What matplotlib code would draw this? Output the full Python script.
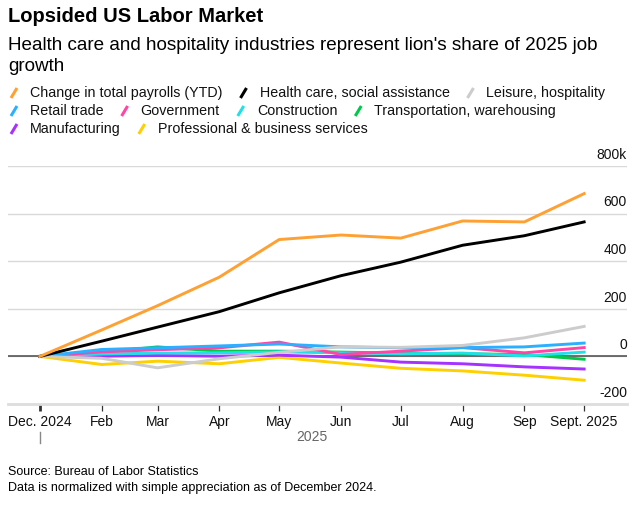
import matplotlib
matplotlib.use("Agg")
import matplotlib.pyplot as plt
import matplotlib.transforms as mtransforms
from matplotlib.lines import Line2D
import pandas as pd

plt.rcParams["font.family"] = ["Liberation Sans", "DejaVu Sans"]

# ---------------- DATA ---------------- #

months = pd.to_datetime([
    "2024-12-31", "2025-01-31", "2025-02-28", "2025-03-31", "2025-04-30",
    "2025-05-31", "2025-06-30", "2025-07-31", "2025-08-31", "2025-09-30",
])
tick_labels = ["Dec. 2024", "Feb", "Mar", "Apr", "May", "Jun", "Jul", "Aug", "Sep", "Sept. 2025"]

# cumulative change since Dec 2024, thousands of jobs
total_payrolls = [0, 111, 213, 333, 491, 510, 497, 569, 565, 684]
health_care = [0, 64, 123, 188, 267, 339, 396, 467, 507, 565]
leisure = [0, -8, -48, -10, 17, 40, 38, 46, 78, 126]
retail = [0, 29, 36, 44, 52, 40, 36, 37, 40, 56]
government = [0, 19, 28, 36, 60, 8, 22, 37, 15, 37]
construction = [0, 10, 14, 15, 19, 15, 11, 14, 2, 18]
transportation = [0, 17, 40, 22, 22, 18, 14, 11, 8, -12]
manufacturing = [0, 1, 4, 1, 5, -3, -24, -31, -44, -53]
professional = [0, -34, -20, -31, -4, -28, -50, -61, -79, -100]

series_names = [
    "Change in total payrolls (YTD)", "Health care, social assistance", "Leisure, hospitality",
    "Retail trade", "Government", "Construction", "Transportation, warehousing",
    "Manufacturing", "Professional & business services",
]
series_values = [
    total_payrolls, health_care, leisure, retail, government,
    construction, transportation, manufacturing, professional,
]
series_colors = [
    "#ffa033", "#000000", "#cccccc", "#2bb0ff", "#ff45a6",
    "#21e0e8", "#00c94a", "#a532ff", "#ffd000",
]
legend_rows = [[0, 1, 2], [3, 4, 5, 6], [7, 8]]

y_ticks = [-200, 0, 200, 400, 600, 800]
y_tick_labels = ["-200", "0", "200", "400", "600", "800k"]

# ---------------- FIGURE ---------------- #

W, H = 634, 505
fig = plt.figure(figsize=(W / 100, H / 100), dpi=100)
ax = fig.add_axes([8 / W, 1 - 404 / H, (627 - 8) / W, (404 - 166) / H])

# gridlines
for v in y_ticks[1:]:
    ax.axhline(v, color="#d9d9d9", lw=1, zorder=1)
ax.axhline(0, color="#555555", lw=1.2, zorder=2)

# lines, drawn bottom-up so the main series sit on top
order = [2, 8, 7, 6, 5, 4, 3, 1, 0]
for i in order:
    ax.plot(months, series_values[i], color=series_colors[i], lw=2.1,
            solid_joinstyle="round", zorder=3 + (9 - i) * 0.01 + (1 if i < 2 else 0))

ax.set_ylim(-200, 800)
ax.set_xlim(months[0] - pd.Timedelta(days=16), months[-1] + pd.Timedelta(days=21.5))

# y labels sit above each gridline, right aligned
ytrans = mtransforms.blended_transform_factory(ax.transAxes, ax.transData)
for v, lab in zip(y_ticks, y_tick_labels):
    ax.annotate(lab, xy=(1.0, v), xycoords=ytrans, xytext=(0, 3),
                textcoords="offset points", ha="right", va="bottom",
                fontsize=10, color="#111111")

ax.set_yticks([])
for s in ["top", "left", "right"]:
    ax.spines[s].set_visible(False)
ax.spines["bottom"].set_color("#dddddd")
ax.spines["bottom"].set_linewidth(2)

ax.set_xticks(months)
ax.set_xticklabels(tick_labels, fontsize=10, color="#111111")
ax.tick_params(axis="x", length=5, width=0.9, color="#333333", pad=3)
ax.xaxis.get_major_ticks()[0].tick1line.set_markeredgewidth(2)

# year separator and label
xtrans = mtransforms.blended_transform_factory(ax.transData, ax.transAxes)
ax.plot([months[0], months[0]], [-0.118, -0.164], transform=xtrans,
        color="#888888", lw=1, clip_on=False)
mid = months[0] + (months[-1] - months[0]) / 2
ax.text(mid, -0.14, "2025", transform=xtrans, ha="center", va="center",
        fontsize=10, color="#666666")

# ---------------- TEXT ---------------- #

fig.text(8 / W, 1 - 17 / H, "Lopsided US Labor Market", fontsize=14.5,
         fontweight="bold", va="center", ha="left")
fig.text(8 / W, 1 - 56 / H,
         "Health care and hospitality industries represent lion's share of 2025 job\ngrowth",
         fontsize=13.6, va="center", ha="left", linespacing=1.3)

fig.text(8 / W, 1 - 472 / H, "Source: Bureau of Labor Statistics", fontsize=9, va="center")
fig.text(8 / W, 1 - 488 / H, "Data is normalized with simple appreciation as of December 2024.",
         fontsize=9, va="center")

# ---------------- LEGEND ---------------- #

fig.canvas.draw()
renderer = fig.canvas.get_renderer()
row_y = [93, 111, 129]
for row, yy in zip(legend_rows, row_y):
    x = 11
    for i in row:
        fig.add_artist(Line2D([x / W, (x + 6) / W], [1 - (yy + 5) / H, 1 - (yy - 5) / H],
                              transform=fig.transFigure, color=series_colors[i],
                              lw=2.2, solid_capstyle="butt"))
        t = fig.text((x + 19) / W, 1 - yy / H, series_names[i], fontsize=10.3,
                     va="center", ha="left", color="#111111")
        bb = t.get_window_extent(renderer)
        x = bb.x1 + 18

fig.savefig("out.png", dpi=100)
